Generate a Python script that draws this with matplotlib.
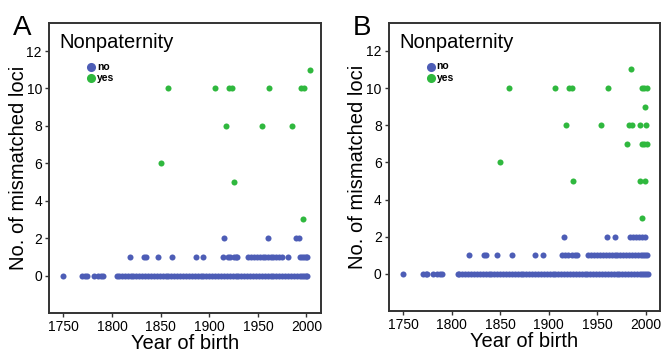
import matplotlib.pyplot as plt

plt.rcParams["font.family"] = ["Liberation Sans", "DejaVu Sans"]

blue = "#4d5db6"
green = "#2fb83e"

# Panel A - "no" (blue), by number of mismatched loci
a_no_0 = [1750, 1769, 1772, 1774, 1781, 1786, 1789, 1791, 1805, 1807, 1810,
          1813, 1816, 1819, 1822, 1825, 1828, 1831, 1834, 1837, 1840, 1843,
          1846, 1849, 1852, 1855, 1858, 1861, 1864, 1867, 1870, 1873, 1876,
          1879, 1882, 1885, 1888, 1891, 1894, 1897, 1900, 1903, 1906, 1909,
          1912, 1915, 1918, 1921, 1924, 1927, 1930, 1933, 1936, 1939, 1942,
          1945, 1948, 1951, 1954, 1957, 1960, 1963, 1966, 1969, 1972, 1975,
          1978, 1981, 1984, 1987, 1990, 1993, 1995, 1997, 1999, 2001]
a_no_1 = [1818, 1833, 1835, 1847, 1862, 1886, 1894, 1914, 1919, 1921, 1925,
          1927, 1929, 1940, 1943, 1946, 1949, 1952, 1955, 1957, 1960, 1963,
          1966, 1969, 1972, 1975, 1981, 1993, 1995, 1997, 1999, 2001]
a_no_2 = [1915, 1960, 1989, 1992]
a_yes_year = [1850, 1858, 1906, 1920, 1923, 1917, 1961, 1954, 1985, 1994,
              1997, 2004, 1925, 1996]
a_yes_loci = [6, 10, 10, 10, 10, 8, 10, 8, 8, 10, 10, 11, 5, 3]

# Panel B
b_no_0 = [1750, 1770, 1773, 1775, 1781, 1785, 1788, 1790, 1806, 1808, 1811,
          1814, 1817, 1820, 1823, 1826, 1829, 1832, 1835, 1838, 1841, 1844,
          1847, 1850, 1853, 1856, 1859, 1862, 1865, 1868, 1871, 1874, 1877,
          1880, 1883, 1886, 1889, 1892, 1895, 1898, 1901, 1904, 1907, 1910,
          1913, 1916, 1919, 1922, 1925, 1928, 1931, 1934, 1937, 1940, 1943,
          1946, 1949, 1952, 1955, 1958, 1961, 1964, 1967, 1970, 1973, 1976,
          1979, 1982, 1985, 1988, 1991, 1994, 1996, 1998, 2000, 2002]
b_no_1 = [1818, 1833, 1835, 1847, 1862, 1886, 1894, 1914, 1917, 1920, 1924,
          1927, 1929, 1941, 1944, 1947, 1950, 1953, 1956, 1959, 1962, 1965,
          1968, 1971, 1974, 1977, 1980, 1983, 1986, 1989, 1992, 1995, 1997,
          1999, 2001]
b_no_2 = [1916, 1960, 1968, 1984, 1987, 1990, 1993, 1996, 1999]
b_yes_year = [1859, 1907, 1921, 1924, 1961, 1996, 1998, 2001, 1985, 1999,
              1918, 1954, 1983, 1986, 1994, 2000, 1981, 1996, 1998, 2001,
              1850, 1925, 1994, 1999, 1996]
b_yes_loci = [10, 10, 10, 10, 10, 10, 10, 10, 11, 9,
              8, 8, 8, 8, 8, 8, 7, 7, 7, 7,
              6, 5, 5, 5, 3]

xticks = [1750, 1800, 1850, 1900, 1950, 2000]
yticks = [0, 2, 4, 6, 8, 10, 12]

fig = plt.figure(figsize=(6.61, 3.54), dpi=100)
ax_a = fig.add_axes([0.074, 0.116, 0.411, 0.819])
ax_b = fig.add_axes([0.588, 0.121, 0.41, 0.814])

panels = [
    (ax_a, a_no_0, a_no_1, a_no_2, a_yes_year, a_yes_loci, "A", -0.077),
    (ax_b, b_no_0, b_no_1, b_no_2, b_yes_year, b_yes_loci, "B", -0.081),
]

for ax, n0, n1, n2, yy, yl, letter, ylab_x in panels:
    no_x = n0 + n1 + n2
    no_y = [0] * len(n0) + [1] * len(n1) + [2] * len(n2)
    ax.scatter(no_x, no_y, s=19, color=blue, linewidths=0, label="no")
    ax.scatter(yy, yl, s=19, color=green, linewidths=0, label="yes")

    ax.set_xlim(1735, 2014.5)
    ax.set_ylim(-2, 13.5)
    ax.set_xticks(xticks)
    ax.set_yticks(yticks)
    ax.tick_params(labelsize=10, length=3, width=1, pad=2, color="#333333")
    for sp in ax.spines.values():
        sp.set_linewidth(1.4)
        sp.set_color("#333333")
    ax.set_xlabel("Year of birth", fontsize=14.5, labelpad=0)
    ax.set_ylabel("No. of mismatched loci", fontsize=14.5)
    ax.yaxis.set_label_coords(ylab_x, 0.5)

    ax.text(0.04, 0.965, "Nonpaternity", transform=ax.transAxes,
            fontsize=14.5, va="top", ha="left")
    ax.legend(loc="upper left", bbox_to_anchor=(0.125, 0.885),
              frameon=False, markerscale=1.5, handlelength=0.6,
              handletextpad=0.25, labelspacing=0.15, borderpad=0,
              prop={"size": 7.5, "weight": "bold"})

    bb = ax.get_position()
    fig.text(bb.x0 - 0.055, 0.9, letter, fontsize=20, ha="left",
             va="baseline")

fig.savefig("out.png", dpi=100)
